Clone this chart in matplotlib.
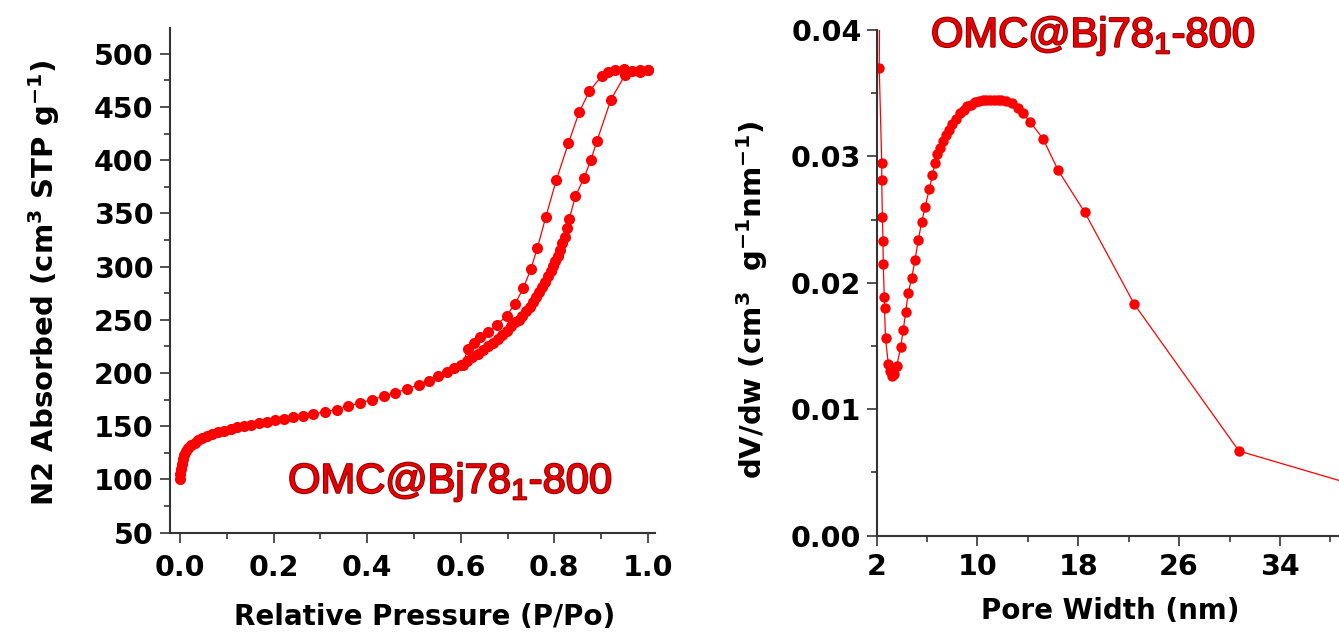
import matplotlib
matplotlib.use('Agg')
import matplotlib.pyplot as plt
import matplotlib.patheffects as pe
from matplotlib.ticker import MultipleLocator, FormatStrFormatter

plt.rcParams['font.family'] = 'DejaVu Sans'
plt.rcParams['font.weight'] = 'bold'
plt.rcParams['mathtext.default'] = 'regular'

# N2 isotherm - adsorption branch
p_ads = [0.0005, 0.001, 0.002, 0.004, 0.006, 0.009, 0.013, 0.018, 0.024, 0.031,
         0.039, 0.048, 0.058, 0.069, 0.081, 0.094, 0.108, 0.122, 0.137, 0.152,
         0.168, 0.185, 0.203, 0.222, 0.242, 0.263, 0.285, 0.31, 0.335, 0.36,
         0.385, 0.41, 0.435, 0.46, 0.485, 0.51, 0.532, 0.552, 0.57, 0.586,
         0.60, 0.613, 0.625, 0.637, 0.648, 0.659, 0.669, 0.679, 0.689, 0.698,
         0.707, 0.716, 0.724, 0.732, 0.74, 0.747, 0.754, 0.761, 0.768, 0.774,
         0.78, 0.786, 0.792, 0.797, 0.802, 0.807, 0.812, 0.817, 0.822, 0.827,
         0.832, 0.845, 0.863, 0.878, 0.891, 0.921, 0.951, 0.983, 1.0]
v_ads = [100, 105, 110, 115, 119, 123, 126.5, 129.5, 132, 134.5,
         137, 139, 141, 143, 144.5, 146, 147.5, 149, 150.3, 151.6,
         153, 154.3, 155.7, 157, 158.5, 160, 161.7, 163.6, 165.6, 169,
         172, 175, 178, 181.5, 185, 189, 193, 197, 201, 204.5,
         208, 211.5, 215, 218, 221.5, 225, 228.5, 232, 236, 240,
         244, 248, 250, 254, 258.5, 262.5, 267, 271.5, 276.5, 281,
         286, 291, 296, 300.5, 305, 310, 316, 322, 328, 336,
         345, 366, 383, 400, 418, 457, 480, 483, 485]

# N2 isotherm - desorption branch
p_des = [1.0, 0.983, 0.966, 0.948, 0.930, 0.915, 0.901, 0.875, 0.853, 0.830,
         0.804, 0.782, 0.764, 0.750, 0.734, 0.716, 0.698, 0.677, 0.659, 0.642,
         0.628, 0.615, 0.605]
v_des = [485, 485, 484, 486, 485, 483, 479, 465, 445, 416,
         381, 347, 318, 298, 280, 265, 254, 245, 239, 234,
         228, 223, 208]

# pore size distribution
w_psd = [2.3, 2.2, 2.4, 2.4, 2.45, 2.5, 2.52, 2.6, 2.62, 2.7,
         2.92, 3.05, 3.19, 3.35, 3.59, 3.9, 4.11, 4.3, 4.5, 4.78,
         5.04, 5.3, 5.57, 5.84, 6.17, 6.42, 6.64, 6.8, 7.0, 7.25,
         7.5, 7.75, 8.0, 8.3, 8.6, 8.9, 9.2, 9.5, 9.8, 10.1,
         10.4, 10.7, 11.0, 11.3, 11.6, 11.9, 12.3, 12.7, 13.2, 13.6,
         14.2, 15.2, 16.4, 18.5, 22.45, 30.75, 42.0]
dvdw_psd = [0.052, 0.0370, 0.0295, 0.0281, 0.0252, 0.0233, 0.0215, 0.0189, 0.0180, 0.0156,
            0.0136, 0.0130, 0.0126, 0.0128, 0.0134, 0.0149, 0.0163, 0.0177, 0.0192, 0.0204,
            0.0218, 0.0234, 0.0248, 0.0260, 0.0274, 0.0285, 0.0295, 0.0302, 0.0307, 0.0312,
            0.0317, 0.0321, 0.0326, 0.0330, 0.0334, 0.0337, 0.0340, 0.0341, 0.0343, 0.0344,
            0.0345, 0.0345, 0.0345, 0.0345, 0.0345, 0.0345, 0.0344, 0.0342, 0.0338, 0.0334,
            0.0327, 0.0314, 0.0289, 0.0256, 0.0183, 0.0067, 0.0034]

sample = r'OMC@Bj78$_{1}$-800'
red = '#ff0000'

fig = plt.figure(figsize=(13.39, 6.33), dpi=100)
ax1 = fig.add_axes([0.12696, 0.15845, 0.36221, 0.79731])
ax2 = fig.add_axes([0.65474, 0.15371, 0.34526, 0.79889])

ax1.plot(p_des, v_des, '-o', color=red, lw=0.9, ms=8, mew=0)
ax1.plot(p_ads, v_ads, '-o', color=red, lw=0.9, ms=8, mew=0)
ax2.plot(w_psd, dvdw_psd, '-o', color=red, lw=0.9, ms=7.5, mew=0)

for ax in (ax1, ax2):
    ax.spines['top'].set_visible(False)
    ax.spines['right'].set_visible(False)
    for s in ('left', 'bottom'):
        ax.spines[s].set_linewidth(1.5)
        ax.spines[s].set_color('#333333')
    ax.tick_params(which='major', direction='out', length=7.5, width=1.2,
                   color='#333333', labelsize=20.5)
    ax.tick_params(which='minor', direction='out', length=4, width=1.2,
                   color='#333333')

# left: isotherm
ax1.set_xlim(-0.0214, 1.0152)
ax1.set_ylim(50, 524.3)
ax1.xaxis.set_major_locator(MultipleLocator(0.2))
ax1.xaxis.set_minor_locator(MultipleLocator(0.1))
ax1.xaxis.set_major_formatter(FormatStrFormatter('%.1f'))
ax1.yaxis.set_major_locator(MultipleLocator(50))
ax1.yaxis.set_minor_locator(MultipleLocator(25))
ax1.tick_params(axis='x', pad=8)
ax1.tick_params(axis='y', pad=4.5)
ax1.set_xlabel('Relative Pressure (P/Po)', fontsize=20, fontweight='bold')
ax1.set_ylabel('N2 Absorbed (cm$^{3}$ STP g$^{-1}$)', fontsize=21, fontweight='bold')
ax1.xaxis.set_label_coords(0.525, -0.139)
ax1.yaxis.set_label_coords(-0.223, 0.495)
ax1.text(0.231, 87.3, sample, fontsize=30, family='Liberation Sans',
         fontweight='normal', color='#e80000', va='baseline',
         path_effects=[pe.withStroke(linewidth=1.4, foreground='#8b0000')])

# right: pore size distribution
ax2.set_xlim(2, 38.69)
ax2.set_ylim(0, 0.040)
ax2.set_xticks([2, 10, 18, 26, 34])
ax2.set_xticks([6, 14, 22, 30, 38], minor=True)
ax2.yaxis.set_major_locator(MultipleLocator(0.01))
ax2.yaxis.set_minor_locator(MultipleLocator(0.005))
ax2.yaxis.set_major_formatter(FormatStrFormatter('%.2f'))
ax2.tick_params(axis='x', pad=5)
ax2.tick_params(axis='y', pad=3.5)
ax2.set_xlabel('Pore Width (nm)', fontsize=20, fontweight='bold')
ax2.set_ylabel('dV/dw (cm$^{3}$  g$^{-1}$nm$^{-1}$)', fontsize=21, fontweight='bold')
ax2.xaxis.set_label_coords(0.505, -0.121)
ax2.yaxis.set_label_coords(-0.231, 0.466)
ax2.text(6.31, 0.03866, sample, fontsize=30, family='Liberation Sans',
         fontweight='normal', color='#e80000', va='baseline',
         path_effects=[pe.withStroke(linewidth=1.4, foreground='#8b0000')])

fig.savefig('out.png', dpi=100)
